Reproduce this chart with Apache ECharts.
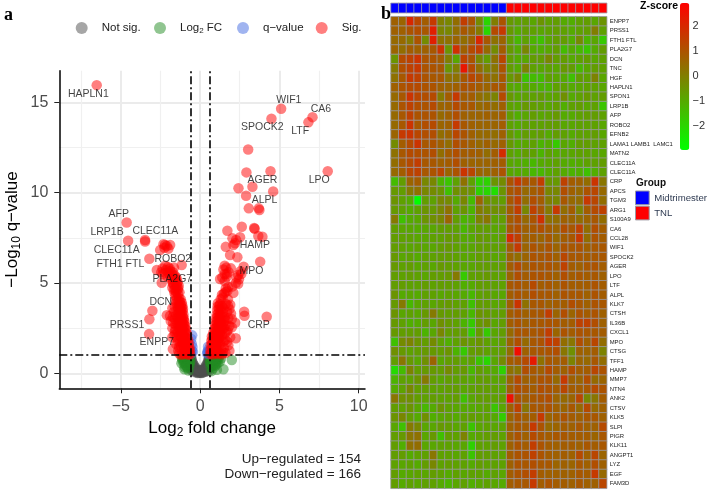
<!DOCTYPE html>
<html>
<head>
<meta charset="utf-8">
<style>
  html, body { margin: 0; padding: 0; background: #fff; }
  #main { width: 708px; height: 490px; }
</style>
<script src="https://cdn.jsdelivr.net/npm/echarts@6/dist/echarts.min.js"></script>
</head>
<body>
<div id="main"></div>
<script>
// panel a, volcano points as [log2FC, -log10 q]
const notSigPoints = [
  [-0.02,0.03],[0.03,0.05],[-0.06,0.08],[0.07,0.06],[-0.1,0.04],[0.11,0.1],[-0.13,0.14],[0.14,0.04],[-0.17,0.07],[0.18,0.13],
  [-0.2,0.2],[0.21,0.06],[-0.23,0.12],[0.24,0.22],[-0.26,0.28],[0.27,0.14],[-0.29,0.05],[0.3,0.32],[-0.31,0.18],[0.32,0.08],
  [-0.33,0.36],[0.34,0.24],[-0.35,0.1],[0.36,0.42],[-0.37,0.27],[0.38,0.16],[-0.39,0.46],[0.4,0.34],[-0.41,0.2],[0.42,0.5],
  [-0.43,0.38],[0.44,0.12],[-0.45,0.54],[0.46,0.28],[-0.47,0.44],[0.48,0.6],[-0.49,0.16],[0.5,0.46],[-0.5,0.66],[0.51,0.7],
  [-0.52,0.32],[0.53,0.24],[-0.53,0.76],[0.54,0.56],[-0.55,0.5],[0.55,0.82],[-0.56,0.86],[0.56,0.38],[-0.57,0.2],[0.57,0.9],
  [-0.57,0.62],[0.58,0.68],[-0.58,0.94],[0.58,0.14],[-0.15,0.02],[0.09,0.01],[-0.04,0.12],[0.01,0.16],[-0.08,0.18],[0.16,0.19]
]
const logFcPoints = [
  [-0.6,0.92],[-0.64,0.7],[-0.66,0.42],[-0.68,0.96],[-0.72,0.16],[-0.74,0.58],[-0.78,0.84],[-0.8,0.3],[-0.84,0.64],[-0.88,0.96],
  [-0.92,0.44],[-0.97,0.8],[-0.99,0.22],[-1.04,0.6],[-1.08,0.9],[-1.15,0.85],[-1.18,0.55],
  [-0.65,0.85],[-0.7,0.78],[-0.75,0.95],[-0.8,0.7],[-0.85,0.88],[-0.9,0.76],[-0.95,0.92],[-1.0,0.68],[-1.05,0.78],[-1.12,0.72],
  [-0.68,0.55],[-0.76,0.48],[-0.84,0.4],[-0.92,0.62],[-0.98,0.35],[-0.62,0.62],[-0.7,0.9],[-0.82,0.8],[-1.02,0.94],
  [0.6,0.94],[0.63,0.68],[0.66,0.36],[0.69,0.92],[0.72,0.12],[0.76,0.6],[0.8,0.84],[0.83,0.28],[0.87,0.62],[0.92,0.95],
  [0.96,0.42],[1.02,0.76],[1.06,0.2],[1.1,0.56],[1.18,0.9],[1.24,0.64],[1.32,0.82],[1.47,0.22],[2.0,0.74],
  [0.65,0.82],[0.7,0.76],[0.74,0.94],[0.79,0.7],[0.84,0.9],[0.88,0.74],[0.94,0.86],[1.0,0.66],[1.06,0.82],[1.13,0.74],
  [0.67,0.52],[0.75,0.46],[0.83,0.42],[0.9,0.58],[0.98,0.5],[0.62,0.6],[0.72,0.88],[0.86,0.78],[1.04,0.92]
]
const qValuePoints = [
  [-0.5,2.1],[-0.52,1.62],[-0.48,1.45],[-0.52,1.25],[-0.56,1.08],[-0.45,1.2],[-0.56,1.9],
  [0.5,1.47],[0.53,1.3],[0.46,1.2],[0.56,1.08],[0.44,1.1],[0.5,1.15]
]
const sigDownPoints = [
  [-0.62,1.05],[-0.68,1.12],[-0.75,1.03],[-0.82,1.18],[-0.9,1.08],[-0.97,1.22],[-1.05,1.06],[-1.12,1.15],[-1.2,1.03],[-1.31,1.1],
  [-0.64,1.27],[-0.72,1.3],[-0.86,1.33],[-1.0,1.36],[-1.72,1.34],[-0.66,1.42],[-0.74,1.5],[-0.83,1.46],[-0.92,1.55],[-1.02,1.48],
  [-1.1,1.6],[-1.21,1.52],[-1.33,1.45],[-0.7,1.66],[-0.79,1.72],[-0.88,1.7],[-0.97,1.78],[-1.06,1.82],[-1.16,1.75],[-1.27,1.7],
  [-1.4,1.8],[-0.76,1.88],[-0.84,1.95],[-0.93,2.0],[-1.02,2.05],[-1.12,1.98],[-1.22,2.04],[-1.33,2.1],[-1.48,2.0],[-1.62,2.12],
  [-0.82,2.18],[-0.9,2.25],[-0.99,2.3],[-1.08,2.22],[-1.18,2.32],[-1.28,2.38],[-1.42,2.3],[-1.55,2.42],[-0.88,2.42],[-0.97,2.5],
  [-1.06,2.55],[-1.15,2.48],[-1.25,2.6],[-1.36,2.56],[-0.93,2.62],[-1.0,2.7],[-1.1,2.76],[-1.2,2.72],[-1.3,2.8],[-1.42,2.75],
  [-1.55,2.7],[-1.7,2.78],[-0.98,2.86],[-1.05,2.94],[-1.14,2.9],[-1.24,2.98],[-1.35,2.95],[-1.03,3.05],[-1.1,3.12],[-1.2,3.08],
  [-1.3,3.16],[-1.42,3.1],[-1.05,3.24],[-1.15,3.3],[-1.25,3.26],[-1.36,3.32],[-1.52,3.2],[-2.1,3.22],[-1.9,3.18],[-1.72,3.12],
  [-1.1,3.44],[-1.2,3.5],[-1.3,3.46],[-1.08,3.58],[-1.17,3.64],[-1.27,3.6],[-1.4,3.56],[-1.12,3.74],[-1.22,3.8],[-1.32,3.76],
  [-1.42,3.7],[-1.15,3.9],[-1.26,3.96],[-1.36,4.0],[-1.22,4.1],[-1.33,4.16],[-1.45,4.12],[-1.55,4.3],[-1.4,4.4],[-1.3,4.48],
  [-1.52,4.52],[-1.62,4.44],[-1.42,4.62],[-1.56,4.68],[-1.66,4.62],[-1.75,4.75],[-1.48,4.85],[-1.62,4.9],[-1.72,4.96],[-1.38,4.72],
  [-1.42,5.05],[-1.58,5.1],[-1.72,5.02],[-1.5,5.22],[-1.66,5.3],[-1.82,5.2],[-1.6,5.42],[-1.76,5.48],[-1.9,5.4],[-1.72,5.6],
  [-1.88,5.66],[-2.0,5.58],[-2.42,5.01],[-2.15,5.72],[-1.92,5.8],[-2.03,5.88],[-2.37,5.8],[-2.73,5.72],[-1.16,5.99],[-2.2,5.95],
  [-3.2,6.34],[-2.52,6.82],[-2.31,7.14],[-2.21,7.1],[-1.89,7.1],[-2.1,7.05],[-2.25,6.95],[-2.0,6.9],[-4.63,8.35],[-4.54,7.34],
  [-3.47,7.38],[-3.47,7.3],[-6.52,15.95],[-3.01,3.46],[-3.2,2.99],[-3.22,2.17],
  [-1.45,5.0],[-1.35,4.85],[-1.5,3.9],[-1.6,3.7],[-1.55,4.05],[-1.65,3.4],[-1.75,3.6],[-1.6,3.0],[-1.85,2.9],[-1.75,2.5],
  [-1.6,2.3],[-1.75,2.0],[-1.5,1.6],[-1.38,1.25],[-1.5,5.3],[-2.2,5.55],[-2.35,5.5],[-1.65,5.85],[-2.45,5.6],[-2.05,5.35]
]
const sigUpPoints = [
  [0.62,1.06],[0.7,1.13],[0.78,1.04],[0.86,1.18],[0.95,1.09],[1.04,1.2],[1.14,1.07],[1.25,1.14],[1.38,1.05],[1.6,1.12],
  [0.65,1.3],[0.74,1.35],[0.84,1.38],[0.94,1.44],[1.05,1.36],[1.17,1.42],[1.32,1.32],[1.5,1.4],[0.67,1.55],[0.75,1.62],
  [0.84,1.58],[0.93,1.68],[1.03,1.6],[1.13,1.7],[1.25,1.65],[0.71,1.8],[0.8,1.86],[0.89,1.82],[0.99,1.9],[1.09,1.84],
  [1.2,1.94],[1.33,1.88],[1.48,1.76],[1.78,1.55],[2.25,1.94],[0.74,2.04],[0.83,2.1],[0.93,2.06],[1.03,2.14],[1.13,2.08],
  [1.24,2.16],[1.38,2.1],[0.84,2.26],[0.94,2.32],[1.04,2.28],[1.14,2.36],[1.26,2.3],[1.4,2.38],[1.68,2.3],[1.55,2.2],
  [0.9,2.46],[1.0,2.52],[1.1,2.58],[1.22,2.54],[1.35,2.6],[1.5,2.5],[0.95,2.68],[1.05,2.74],[1.16,2.7],[1.28,2.78],
  [1.42,2.72],[1.6,2.66],[1.85,2.62],[2.21,2.8],[1.0,2.88],[1.1,2.94],[1.22,2.9],[1.36,2.96],[1.52,2.9],[1.02,3.06],
  [1.12,3.12],[1.24,3.08],[1.38,3.16],[1.55,3.1],[1.78,3.05],[1.05,3.26],[1.16,3.32],[1.28,3.28],[1.44,3.36],[2.8,3.19],
  [2.78,3.41],[4.2,3.13],[1.95,3.3],[1.08,3.5],[1.2,3.56],[1.32,3.52],[1.48,3.6],[1.85,3.55],[1.1,3.7],[1.22,3.76],
  [1.38,3.72],[1.12,3.88],[1.26,3.82],[1.9,3.8],[1.3,4.1],[1.42,4.2],[1.38,4.35],[1.5,4.42],[1.6,4.5],[1.72,4.55],
  [2.1,4.45],[1.62,4.7],[1.78,4.78],[2.02,4.8],[2.4,4.96],[2.25,5.0],[1.26,5.22],[1.4,5.3],[1.55,5.1],[1.68,5.35],
  [1.55,5.5],[1.47,5.75],[1.68,5.5],[1.8,5.6],[1.94,5.81],[1.65,5.85],[1.55,5.95],[2.3,5.3],[2.55,5.65],[2.6,5.5],
  [2.45,5.2],[2.75,5.9],[2.4,5.45],[3.79,6.18],[1.89,6.55],[2.35,6.42],[1.62,7.0],[2.1,7.1],[2.27,7.38],[2.04,7.47],
  [2.52,7.53],[2.2,7.2],[1.72,7.89],[3.67,7.6],[3.93,7.56],[2.63,8.11],[3.41,8.04],[3.44,8.0],[3.07,9.13],[3.7,9.13],
  [3.74,9.04],[2.9,9.83],[4.61,10.07],[2.42,10.24],[3.3,10.33],[2.92,11.12],[4.44,11.18],[8.05,11.18],[3.03,12.39],[4.5,14.09],
  [6.83,13.89],[7.09,14.18],[5.11,14.64],[1.7,3.4],[1.62,3.85],[1.75,4.1],[1.6,2.95],[1.75,2.4],[1.6,1.85],[1.45,1.15],
  [1.9,2.0],[2.0,2.55],[1.85,1.25],[1.7,1.75],[2.0,3.0],[1.75,3.75]
]
const geneLabelNames = ['HAPLN1','WIF1','CA6','SPOCK2','LTF','AGER','LPO','ALPL','AFP','LRP1B','CLEC11A','CLEC11A','FTH1 FTL','ROBO2','HAMP','MPO','PLA2G7','DCN','PRSS1','ENPP7','CRP']
const geneLabelX = [-7.05,5.6,7.62,3.93,6.31,3.93,7.51,4.06,-5.13,-5.87,-2.82,-5.26,-5.03,-1.72,3.45,3.24,-1.75,-2.48,-4.61,-2.73,3.7]
const geneLabelY = [15.47,15.13,14.65,13.63,13.39,10.7,10.7,9.59,8.82,7.8,7.89,6.82,6.03,6.34,7.09,5.67,5.22,3.95,2.66,1.72,2.66]
const volcanoXTicks = [-5,0,5,10]
const volcanoYTicks = [0,5,10,15]
const volcanoXMinor = [-7.5,-2.5,2.5,7.5]
const volcanoYMinor = [2.5,7.5,12.5]
const fcCut = 0.585
const qCut = 1

// panel b
const heatGenes = ['ENPP7','PRSS1','FTH1 FTL','PLA2G7','DCN','TNC','HGF','HAPLN1','SPON1','LRP1B','AFP','ROBO2','EFNB2','LAMA1 LAMB1  LAMC1','MATN2','CLEC11A','CLEC11A','CRP','APCS','TGM3','ARG1','S100A9','CA6','CCL28','WIF1','SPOCK2','AGER','LPO','LTF','ALPL','KLK7','CTSH','IL36B','CXCL1','MPO','CTSG','TFF1','HAMP','MMP7','NTN4','ANK2','CTSV','KLK5','SLPI','PIGR','KLK11','ANGPT1','LYZ','EGF','FAM3D']
const midtrimesterCols = [0,1,2,3,4,5,6,7,8,9,10,11,12,13,14]
const tnlCols = [15,16,17,18,19,20,21,22,23,24,25,26,27]
const heatRows = [
  [.7,.6,2,1.3,.8,1.6,0,-.2,.4,1.5,1,-.3,-2,0,1,-.6,-.8,-.7,-.9,-.5,-.8,-.7,-1,-1.1,-.8,-.7,-.9,-.5],
  [.7,.7,1,1.1,.9,2.2,-.1,-.2,.4,.9,.6,.1,-2,1.2,1.6,-.6,-1,-.7,-.8,-.9,-.8,-.7,-.8,-1,-.8,-.7,0,-.8],
  [.5,.5,.1,1,-.3,2.2,.3,.3,.6,.4,.7,2,.9,.3,.6,-.7,-1.3,-.8,-1.2,-1.5,-.9,-.7,-.7,-1.1,-.3,-1.2,-.9,-1.7],
  [.6,.4,.8,.7,.7,.9,1.7,-.5,1.8,.7,1.2,1.5,.5,-.3,.8,-.6,-1,-.2,-1,-1.1,-.9,-.7,-1.4,-1,-1.3,-1.6,-1,-.7],
  [-.5,1.2,1.4,1.7,1,1,.8,0,-.9,1.4,1,-.2,-.7,.3,1.3,-.7,-1,-.9,-.7,-.7,-.2,-.7,-.7,-1,-.8,-.7,-.9,-.8],
  [.1,1.1,1.4,1.6,1,1,.9,-.5,0,2.4,1.2,.4,-.1,.2,1,-.7,-1,-.1,-.8,-.9,-.8,-.9,-.6,-.7,-1.3,-.9,-.7,-.8],
  [.3,.9,1.6,1.4,1,.9,.9,.3,.3,.9,1.3,1,.5,.3,.9,-.6,-.2,-1.6,-1.4,-1.4,-.8,-.9,-1,-1.5,-.7,-.8,-.1,-.9],
  [.7,1,1.2,1.2,1,1,.7,.6,.7,1,1,.8,.6,.9,.9,-.9,-1,-1,-1,-1.2,-1.2,-.8,-.8,-1,-.9,-.8,-.8,-.9],
  [.5,.9,1.7,1.3,1.1,1.2,.1,.8,1.6,.8,.8,.4,.2,-.1,1.2,-.6,-.9,-.8,-.8,-.7,-.9,-.8,-.4,-1,-.8,-.6,-.8,-.7],
  [.5,1,1.4,1.1,1,1.2,.6,.7,1.2,.9,.9,.5,.6,.4,.7,-.8,-.9,-.6,-.7,-.8,-.9,-.7,-1.1,-.8,-.7,-.9,-.8,-1.6],
  [.5,.9,1.4,1,1,1,.5,.7,1.1,.7,.6,.6,.7,.6,.8,-.7,-1.1,-.9,-.7,-.9,-.8,-.6,-1,-1,-.8,-.7,-.7,-.8],
  [.5,.9,1.7,.9,1.1,1.2,.6,.7,1.6,.9,.7,.6,.6,.6,.8,-.8,-1,-.8,-.8,-.8,-.7,-.7,-.9,-.9,-.8,-.8,-.8,-.9],
  [.6,1.6,1.7,1.3,1.1,1.1,.4,.6,1.3,1,.7,.5,.5,.4,.7,-.6,-1,-.7,-.8,-.7,-1,-.7,-.8,-1,-.8,-.8,-.7,-.9],
  [-.3,.8,1.2,1.7,.9,1,.7,.4,1.1,.9,.7,.5,.7,.5,.7,-.6,-1,-.9,-.8,-1.2,-1,-1.7,-.9,-1.1,-.7,-.7,-.8,-.8],
  [.3,.9,1.2,1.1,1,1.1,.4,.8,1.1,.8,.8,.7,.4,.8,1.9,-.8,-1,-.7,-.8,-1.2,-.8,-1,-.9,-.9,-.8,-.8,-.9,-.9],
  [.4,.9,1.2,1.5,.9,.9,.7,.8,1.1,.7,.6,.6,.6,.7,.8,-.9,-1,-1.1,-1.3,-1,-.9,-.8,-1,-1.1,-1,-.8,-.8,-.7],
  [.5,.8,1.3,1.4,.9,1,1.3,.6,1,1.7,1.3,.6,.5,.7,1,-.9,-1,-1,-1.3,-1.3,-1,-.8,-1,-1.2,-1.1,-1.5,-1.1,-.8],
  [-1.4,-.7,.6,.8,-.2,-.2,-1.2,-1.6,-.8,.3,-.8,-1.9,-1.9,-.5,-.3,1,1.6,1,.9,1.5,-.5,-.6,1.4,.8,.7,.4,1.7,.2],
  [-.6,-.7,.1,.3,-.2,-.3,-.5,-1.5,-.4,-.3,-.5,-1.9,-2,-2.2,-.5,.9,1.1,.5,.8,1,-.2,-.2,1.1,.7,.5,1,1.3,.5],
  [-.5,-.8,-1,-2.9,-.7,-.8,-.2,-.3,-1,-.2,-1.4,.6,-.4,-.6,-.7,.9,1.4,.4,1.1,.8,0,-.2,.9,.5,.4,1.6,1.3,.4],
  [-.6,-.8,-1,-.8,-.5,-.6,-.2,.3,-.8,-.5,-1.2,.1,-.2,-.4,-.3,.8,1.5,-.2,1.4,.9,.1,1.6,.4,.8,-.1,.8,1.2,1.4],
  [.1,-1.5,-1,-.9,-.5,-.4,-.2,.6,-.7,-1.2,-1.1,-.1,.2,-.8,-.7,.8,1.1,.5,1,1.8,.3,.4,.7,.6,.4,.6,.9,.4],
  [-.7,-.9,-.9,-1,-.9,-.9,-.7,-.7,-.8,-1.3,-.9,-.7,-.7,-.9,-.8,.9,1.1,.7,.9,1.1,.8,.6,1.1,.9,1.4,.4,1.1,.8],
  [-.7,-.8,-.8,-.9,-.9,-.8,-.8,-.6,-.7,-1,-1,-.6,-.7,-.9,-.7,1.9,1.4,.6,.8,.6,.9,.5,.8,.9,1.6,.4,1,.8],
  [-.7,-.8,-.9,-.8,-.9,-.9,-.7,-.6,-.8,-.9,-.9,-.7,-.7,-.8,-.7,.8,1.6,.6,1,.8,1,.6,1,.9,1,.7,.9,.9],
  [-.6,-.9,-.8,-1,-.8,-.8,-.7,-.7,-.8,-.9,-.9,-.7,-.7,-.9,-.8,.6,.4,.6,1,.9,1,.7,1.3,.9,.9,.8,.9,.9],
  [-.6,-.8,-.7,-.9,-.8,-.9,-.6,-.7,-.8,-.9,-.9,-.7,-.7,-.8,-.7,.8,1.2,.7,1,.9,1,.8,1.4,.8,.7,.9,1,.8],
  [-.7,-.8,-.7,-.8,-.9,-.7,-.7,-.6,.1,-1.7,-.8,-.7,-.6,-.8,-.8,.6,1.1,.8,1,1,.9,.7,1.1,.8,.9,.8,.9,.7],
  [-.7,-.7,-.8,-.8,-.7,-.8,-.7,-.7,-.8,-1.1,-1,-.7,-.7,-.8,-.8,.9,1,.8,1.2,.8,.9,.7,1,.8,.8,.8,1,.8],
  [-.5,-1,-.9,-1,-.8,-.8,-.9,-.8,-.9,-1,-1.3,-.8,-.7,-.9,-.9,.8,1,.8,1.1,.9,.9,.7,1,.9,.9,.7,1,.8],
  [-.6,.1,-1.3,-.9,-.8,-.9,-.7,-.6,-.8,-.8,-1.5,-.7,-.7,-.9,-.8,.7,1.7,.3,.9,.9,.7,.8,.8,1.1,.9,.7,1,.9],
  [-.5,-.9,-.8,-.9,-.6,.1,-.6,-.7,-.7,-.8,-1.3,-.5,-.6,-.8,-.7,.8,1,.7,.9,.9,1.5,.6,1.1,.6,1,.8,1,.7],
  [-.6,-.8,-1.1,-1,-.7,-.9,-.4,-.6,-.8,-1.2,-1.7,-.6,-.4,-.9,-.7,.8,1,.7,.9,.9,1,.9,.8,.8,1.4,1.4,1.1,.7],
  [-.6,-.7,-.7,-.7,-1.2,-.9,-.2,-.7,-.7,-.7,-1.8,-.6,-1.7,-.9,-.7,.5,1,.9,.9,1,1.5,.6,1,.8,1,.9,.9,.8],
  [-1.5,-.3,-.1,-.5,-.7,-.3,-.8,-1.1,-.8,-.5,-.7,-.5,-.8,-.9,-.7,.6,1.1,.5,.9,1,1.6,1.4,.4,.2,1.1,.7,1.3,.4],
  [-.4,-.6,-.8,-.7,-.6,-.6,-.7,-.5,-1.2,-1.7,-.7,-.6,-.8,-.8,-.7,.4,2.6,.7,.9,.9,1,1.1,.2,-.4,.7,.6,.8,-.1],
  [-.7,.2,-.6,-.9,-.4,.6,-.9,-.7,-.7,-.9,-.8,-1.6,-2,-.9,-.3,.8,.9,1.2,2.3,.3,.9,.8,.8,-.1,.6,.5,.9,.4],
  [-2.1,-1.4,-.1,-.7,-.6,-.6,-.7,-.3,-.7,-.6,-1.3,-.7,-.9,-1,-1.9,.3,.2,1.1,.9,.7,1.2,.8,.7,1.1,.8,.8,1.3,1],
  [-1.2,-.8,-.8,-.5,.1,-.7,-.9,-.7,-.8,-.8,-1,-.7,-.7,-.9,-.8,.6,1.2,.7,.8,1,1,.5,1.6,.7,.6,1.1,.5,.6],
  [-1,-.8,-.2,-.7,-.7,-.8,-.8,-.7,-.7,-.9,-.8,-.7,-.7,-.8,-.9,.7,1.1,.9,.8,1.1,1,.8,1.3,.8,.8,.9,1.2,1],
  [.2,-.4,-.4,-.7,-.8,-.7,-.8,-.8,-.7,-1.5,-.9,-.7,-.7,-.8,-.7,2.5,1,.7,.9,1,1.1,.6,.5,.6,1.3,-.2,.2,.8],
  [-.7,-.8,-.5,-.9,-1.3,-1,-.5,-.8,-.9,-1,-1,-.9,-.8,-1.6,-.9,.7,1.4,.2,.9,.9,1,.7,.6,.9,.5,1.2,.5,.7],
  [-.5,-.2,-.7,-1,-.4,-1.1,-.9,-.8,-1,-.8,-.7,-.8,-.8,-1,-1.8,.6,1,.7,.8,1.6,.6,.8,1,.8,.7,.9,.9,.7],
  [-.9,-1.5,.1,-.2,-.9,-.9,-.6,-.7,-.9,-.8,-1.6,-.9,-.8,-.9,-.8,.7,.9,.8,1.6,1,.5,.6,.8,.7,.9,.7,.7,1.2],
  [-.7,-.6,.2,.3,-.9,-.6,-1.5,-.7,-.8,-.1,-1,-.8,-.7,-.7,-.8,.7,1,.7,1.2,.9,.8,.9,.9,.8,.8,.8,.6,.9],
  [-.7,-1.1,.3,.4,-.9,-.9,-.8,-.8,-.9,-.9,-1.9,-.8,-.8,-.7,-.8,.7,1,.8,1.5,1,.8,.7,.8,.8,.7,.9,.8,.9],
  [-.7,-.7,-1,-.8,-.8,.2,-.8,-.8,-.9,-.8,-1.6,-.7,-.7,-.8,-.8,.8,1,1,1.4,1,.8,.7,.8,.7,1.2,.7,1.3,.6],
  [-.8,-.9,-.8,-1,-.7,-.2,-.8,-.7,-.8,-.8,-1,-.7,-.8,-.8,-.8,.7,1,.9,1.1,.9,.9,.6,.7,.6,.9,.7,1.1,.7],
  [-.7,-1,-.9,-.8,-.9,-.7,-.8,-1,-.8,-.9,-.8,-.8,-1,-.8,-.9,.8,1,1.1,1.5,.8,.7,.7,.7,.7,.9,.8,1.6,.5],
  [-.7,-1,-.8,-.9,-.8,-.8,-1,-1.2,-.9,-.8,-1.1,-.9,-.8,-.9,-1,.8,.9,.9,1.6,.8,1,.8,.8,.7,.9,.7,.7,1.3]
]
const zScoreTicks = [-2,-1,0,1,2]
const zMin = -2.95
const zMax = 2.9

const sans = '"Liberation Sans", Arial, sans-serif'
const colCategories = heatRows[0].map((v, i) => String(i))
const heatData = []
heatRows.forEach((row, r) => row.forEach((v, c) => heatData.push([c, r, v])))
const minusSign = v => String(v).replace('-', '\u2212')

const dashDot = { color: '#000', width: 1.6, type: [8, 3, 2, 3] }
const minorSplit = { show: true, lineStyle: { color: '#f0f0f0', width: 1.2 } }
const scatterBase = {
  type: 'scatter', xAxisIndex: 0, yAxisIndex: 0, symbolSize: 10.5,
  silent: true, animation: false, emphasis: { disabled: true }
}
const subRich = { base: { fontSize: 17, fontFamily: sans, color: '#000' }, sub: { fontSize: 12, fontFamily: sans, color: '#000', padding: [7, 0, 0, 0] } }
const legendRich = { base: { fontSize: 11.5, fontFamily: sans, color: '#222' }, sub: { fontSize: 8, fontFamily: sans, color: '#222', padding: [5, 0, 0, 0] } }

function pointLegend(name, left, formatter) {
  return {
    data: [name], left: left, top: 22, padding: 0, icon: 'circle', itemWidth: 12, itemHeight: 12,
    selectedMode: false, formatter: formatter || name,
    textStyle: { fontSize: 11.5, fontFamily: sans, color: '#222', padding: [0, 0, 0, 9], rich: legendRich }
  }
}

const option = {
  animation: false,
  backgroundColor: '#fff',
  grid: [
    { left: 59.3, top: 70.7, width: 305.7, height: 317.6 },
    { left: 391, top: 3.3, width: 215.7, height: 9.4 },
    { left: 391, top: 16.7, width: 215.7, height: 471.6 },
    { left: 680, top: 3, width: 9.3, height: 147 }
  ],
  xAxis: [
    {
      type: 'value', gridIndex: 0, min: -8.88, max: 10.4,
      name: '{base|Log}{sub|2}{base| fold change}', nameLocation: 'middle', nameGap: 31,
      nameTextStyle: { rich: subRich },
      axisLine: { onZero: false, lineStyle: { color: '#000', width: 1.5 } },
      axisTick: { customValues: volcanoXTicks, length: 5, lineStyle: { color: '#222', width: 1 } },
      axisLabel: { customValues: volcanoXTicks, formatter: minusSign, fontSize: 16, fontFamily: sans, color: '#4d4d4d', margin: 10 },
      splitLine: { show: true, lineStyle: { color: '#ebebeb', width: 2 } }
    },
    {
      type: 'value', gridIndex: 0, min: -8.88, max: 10.4, show: true,
      axisLine: { show: false }, axisLabel: { show: false },
      axisTick: { show: false, customValues: volcanoXMinor },
      splitLine: minorSplit
    },
    { type: 'category', gridIndex: 1, data: colCategories, show: false },
    { type: 'category', gridIndex: 2, data: colCategories, show: false },
    { type: 'value', gridIndex: 3, show: false }
  ],
  yAxis: [
    {
      type: 'value', gridIndex: 0, min: -0.83, max: 16.75,
      name: '{base|\u2212Log}{sub|10}{base| q\u2212value}', nameLocation: 'middle', nameGap: 37,
      nameTextStyle: { rich: subRich },
      axisLine: { onZero: false, lineStyle: { color: '#000', width: 1.5 } },
      axisTick: { customValues: volcanoYTicks, length: 5, lineStyle: { color: '#222', width: 1 } },
      axisLabel: { customValues: volcanoYTicks, fontSize: 16, fontFamily: sans, color: '#4d4d4d', margin: 11 },
      splitLine: { show: true, lineStyle: { color: '#ebebeb', width: 2 } }
    },
    {
      type: 'value', gridIndex: 0, min: -0.83, max: 16.75, show: true,
      axisLine: { show: false }, axisLabel: { show: false },
      axisTick: { show: false, customValues: volcanoYMinor },
      splitLine: minorSplit
    },
    { type: 'category', gridIndex: 1, data: ['Group'], show: false },
    {
      type: 'category', gridIndex: 2, data: heatGenes, inverse: true, position: 'right',
      axisLine: { show: false }, axisTick: { show: false },
      axisLabel: { interval: 0, fontSize: 5.9, fontFamily: sans, color: '#222', margin: 3 }
    },
    {
      type: 'value', gridIndex: 3, min: zMin, max: zMax, position: 'right',
      axisLine: { show: false }, axisTick: { show: false },
      axisLabel: { customValues: zScoreTicks, formatter: minusSign, fontSize: 11, fontFamily: sans, color: '#333', margin: 5, align: 'left' },
      splitLine: { show: false }
    }
  ],
  legend: [
    pointLegend('Not sig.', 75.7),
    pointLegend('Log2 FC', 154, '{base|Log}{sub|2}{base| FC}'),
    pointLegend('q\u2212value', 237),
    pointLegend('Sig.', 315.7),
    {
      data: ['Midtrimester', 'TNL'], left: 635, top: 190.5, padding: 0, orient: 'vertical', icon: 'rect',
      itemWidth: 13.7, itemHeight: 13.7, itemGap: 0.5, selectedMode: false,
      itemStyle: { borderColor: '#9b9aa3', borderWidth: 1 },
      textStyle: { fontSize: 9.6, fontFamily: sans, color: '#2f3b52' }
    }
  ],
  visualMap: {
    type: 'continuous', seriesIndex: 7, min: zMin, max: zMax, left: 680, top: 3, padding: 0,
    itemWidth: 9.3, itemHeight: 147, calculable: false, realtime: false, hoverLink: false,
    text: null, showLabel: false,
    inRange: { color: ['#00ff00', '#ff0000'] }
  },
  graphic: [
    { type: 'text', left: 4, top: 6, style: { text: 'a', font: 'bold 18px "Liberation Serif"', fill: '#000' } },
    { type: 'text', left: 381, top: 5, style: { text: 'b', font: 'bold 18px "Liberation Serif"', fill: '#000' } },
    { type: 'text', right: 347, top: 452.5, style: { text: 'Up\u2212regulated = 154', font: '13.5px ' + sans, fill: '#222' } },
    { type: 'text', right: 347, top: 467.5, style: { text: 'Down\u2212regulated = 166', font: '13.5px ' + sans, fill: '#222' } },
    { type: 'text', right: 30, top: 1, style: { text: 'Z-score', font: 'bold 10.5px ' + sans, fill: '#000' } },
    { type: 'text', left: 636, top: 178, style: { text: 'Group', font: 'bold 10px ' + sans, fill: '#111' } }
  ],
  series: [
    Object.assign({}, scatterBase, { name: 'Not sig.', data: notSigPoints, itemStyle: { color: '#4d4d4d', opacity: 0.5 } }),
    Object.assign({}, scatterBase, { name: 'Log2 FC', data: logFcPoints, itemStyle: { color: '#228b22', opacity: 0.5 } }),
    Object.assign({}, scatterBase, { name: 'q\u2212value', data: qValuePoints, itemStyle: { color: '#4169e1', opacity: 0.5 } }),
    Object.assign({}, scatterBase, {
      name: 'Sig.', data: sigDownPoints.concat(sigUpPoints), itemStyle: { color: '#ff0000', opacity: 0.5 },
      markLine: {
        silent: true, symbol: 'none', animation: false, label: { show: false }, lineStyle: dashDot,
        data: [{ xAxis: -fcCut }, { xAxis: fcCut }, { yAxis: qCut }]
      }
    }),
    Object.assign({}, scatterBase, {
      name: 'gene labels', symbolSize: 0, z: 5,
      data: geneLabelNames.map((n, i) => ({ name: n, value: [geneLabelX[i], geneLabelY[i]] })),
      label: { show: true, position: 'inside', formatter: '{b}', fontSize: 10.5, fontFamily: sans, color: '#111' },
      labelLayout: { hideOverlap: false }
    }),
    {
      name: 'Midtrimester', type: 'heatmap', xAxisIndex: 2, yAxisIndex: 2, silent: true,
      data: midtrimesterCols.map(c => [c, 0, 1]),
      itemStyle: { color: '#0000ff', borderColor: '#9b9aa3', borderWidth: 0.8 }
    },
    {
      name: 'TNL', type: 'heatmap', xAxisIndex: 2, yAxisIndex: 2, silent: true,
      data: tnlCols.map(c => [c, 0, 1]),
      itemStyle: { color: '#ff0000', borderColor: '#9b9aa3', borderWidth: 0.8 }
    },
    {
      name: 'Z-score', type: 'heatmap', xAxisIndex: 3, yAxisIndex: 3, silent: true,
      data: heatData,
      itemStyle: { borderColor: '#9b9aa3', borderWidth: 0.8 }
    }
  ]
}

const myChart = echarts.init(document.getElementById('main'), null, { renderer: 'canvas' })
myChart.setOption(option)
</script>
</body>
</html>
